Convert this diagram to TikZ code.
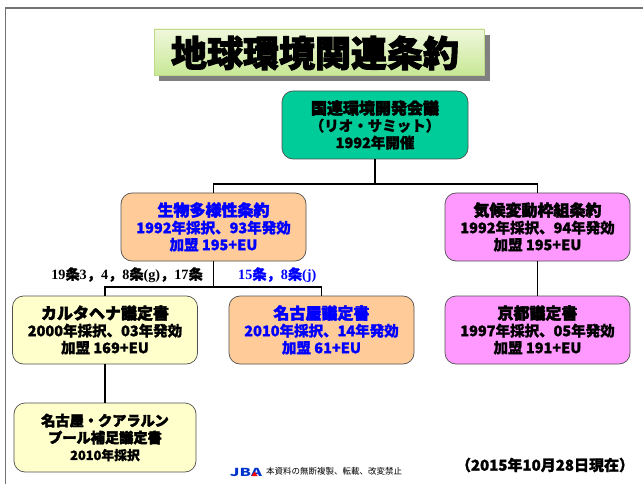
\documentclass[tikz,border=0pt]{standalone}
\usepackage{fontspec}
\setmainfont{Liberation Serif}
\newfontfamily\jpfont[BoldFeatures={FakeBold=1.2}]{Noto Sans CJK JP}
\newfontfamily\jpheavy[BoldFeatures={FakeBold=2.6}]{Noto Sans CJK JP}
\newfontfamily\jpplain{Noto Sans CJK JP}
\usetikzlibrary{calc}
\definecolor{riogreen}{HTML}{00CC99}
\definecolor{bioorange}{HTML}{FFCC99}
\definecolor{climatepink}{HTML}{FF99FF}
\definecolor{protoyellow}{HTML}{FFFFCC}
\definecolor{edgegray}{HTML}{505050}
\definecolor{jbablue}{HTML}{0033CC}
\definecolor{titletop}{HTML}{F0F8DC}
\definecolor{titlebottom}{HTML}{C8E896}
\definecolor{titleedge}{HTML}{BFD98A}
\def\treatyname#1{{\jpheavy\bfseries\fontsize{16}{17}\selectfont #1}}
\tikzset{
	treaty/.style={draw=edgegray, line width=0.7pt, rounded corners=11pt, minimum width=185pt, minimum height=68pt, inner sep=0pt, align=center, font=\jpfont\bfseries\fontsize{14.5}{17}\selectfont},
	link/.style={line width=1.8pt, black},
	article/.style={inner sep=0pt, font=\fontsize{14.2}{16}\selectfont\bfseries}
}
\begin{document}
\begin{tikzpicture}[x=1pt, y=-1pt]
			%%%%% START %%%%%
			
			\useasboundingbox (0, 0) rectangle (643, 484);
			\fill[white] (0, 0) rectangle (643, 484);
			
			\draw[line width=1.2pt, color=black!55] (643, 8) -- (5.5, 8) -- (5.5, 484);
			
			\fill[color=black!50] (159, 35) rectangle (490, 81);
			\shade[top color=titletop, bottom color=titlebottom] (154, 29) rectangle (484, 75);
			\draw[line width=0.7pt, color=titleedge] (154, 29) rectangle (484, 75);
			\node[inner sep=0pt, font=\jpheavy\bfseries\fontsize{36}{40}\selectfont] (title) at (315, 53) {地球環境関連条約};
			
			\node[treaty, fill=riogreen, minimum width=186pt] (rio) at (375, 125) {\treatyname{国連環境開発会議}\\（リオ・サミット）\\1992年開催};
			\node[treaty, fill=bioorange, text=blue] (bio) at (213.5, 227) {\treatyname{生物多様性条約}\\1992年採択、93年発効\\加盟 195+EU};
			\node[treaty, fill=climatepink] (climate) at (537.5, 227) {\treatyname{気候変動枠組条約}\\1992年採択、94年発効\\加盟 195+EU};
			\node[treaty, fill=protoyellow] (cartagena) at (105, 330) {\treatyname{カルタヘナ議定書}\\2000年採択、03年発効\\加盟 169+EU};
			\node[treaty, fill=bioorange, text=blue] (nagoya) at (321.5, 330) {\treatyname{名古屋議定書}\\2010年採択、14年発効\\加盟 61+EU};
			\node[treaty, fill=climatepink] (kyoto) at (537.5, 330) {\treatyname{京都議定書}\\1997年採択、05年発効\\加盟 191+EU};
			\node[treaty, fill=protoyellow, minimum width=182pt, minimum height=69pt] (liability) at (105, 437.5) {{\jpheavy\bfseries\fontsize{14.2}{17}\selectfont 名古屋・クアラルン}\\{\jpheavy\bfseries\fontsize{14.2}{17}\selectfont プール補足議定書}\\{\fontsize{12.8}{15}\selectfont 2010年採択}};
			
			\coordinate (riofork) at (375, 184);
			\coordinate (biofork) at (213.5, 287);
			
			\draw[link] (rio.south) -- (riofork);
			\draw[link] (bio.north) |- (riofork) -| (climate.north);
			\draw[link] (bio.south) -- (biofork);
			\draw[link] (cartagena.north) |- (biofork) -| (nagoya.north);
			\draw[link] (climate.south) -- (kyoto.north);
			\draw[link] (cartagena.south) -- (liability.north);
			
			\node[article, anchor=east] (leftarticles) at (203, 275) {19{\jpfont 条}3{\jpfont ，}4{\jpfont ，}8{\jpfont 条}(g){\jpfont ，}17{\jpfont 条}};
			\node[article, anchor=west, text=blue] (rightarticles) at (238, 275) {15{\jpfont 条，}8{\jpfont 条}(j)};
			
			\node[inner sep=0pt, xscale=1.5, text=jbablue, font=\jpplain\bfseries\fontsize{11}{12}\selectfont] (jba) at (246, 472) {JBA};
			\fill[red] (251.5, 476) -- (254.5, 471.5) -- (257.5, 476) -- cycle;
			\node[inner sep=0pt, anchor=west, font=\jpplain\fontsize{8.5}{10}\selectfont] (notice) at (266, 471.5) {本資料の無断複製、転載、改変禁止};
			\node[inner sep=0pt, font=\jpfont\bfseries\fontsize{15}{17}\selectfont] (asof) at (545, 465) {（2015年10月28日現在）};
			
			%%%%% END %%%%%
		\end{tikzpicture}
\end{document}
